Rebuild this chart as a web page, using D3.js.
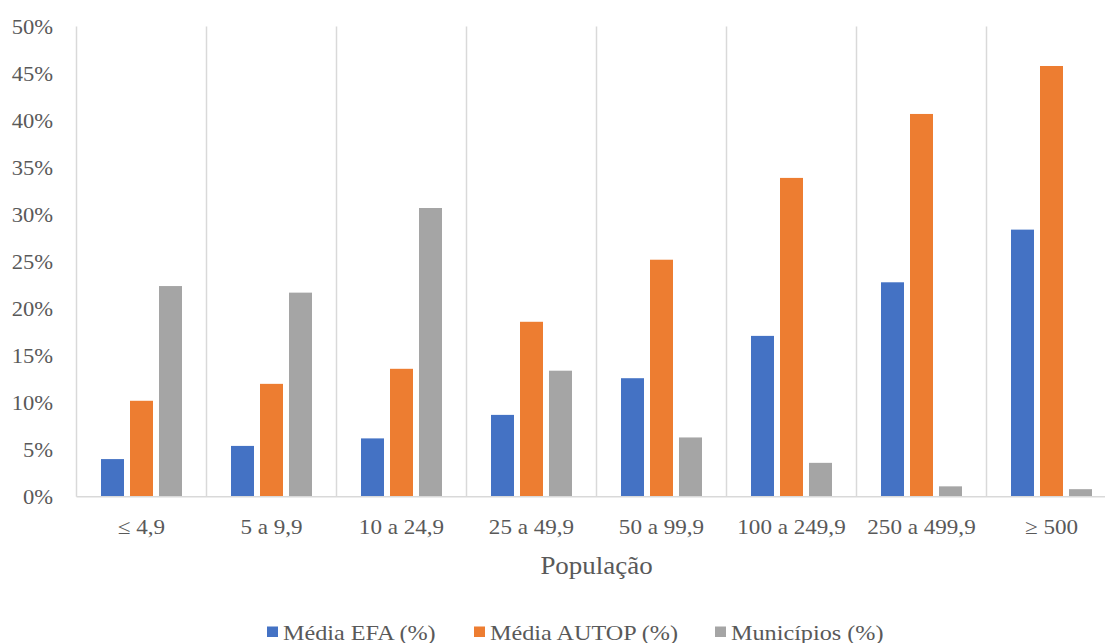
<!DOCTYPE html>
<html>
<head>
<meta charset="utf-8">
<script src="https://cdn.jsdelivr.net/npm/d3@7"></script>
<style>
  html, body { margin: 0; padding: 0; background: #fff; }
  svg { display: block; }
</style>
</head>
<body>
<svg id="chart" width="1105" height="643"></svg>
<script>
// Population classes (thousand inhabitants)
const categories = ["≤ 4,9", "5 a 9,9", "10 a 24,9", "25 a 49,9", "50 a 99,9", "100 a 249,9", "250 a 499,9", "≥ 500"];
const seriesNames = ["Média EFA (%)", "Média AUTOP (%)", "Municípios (%)"];
const mediaEFA   = [4.0, 5.4, 6.2, 8.7, 12.6, 17.1, 22.8, 28.4];
const mediaAUTOP = [10.2, 12.0, 13.6, 18.6, 25.2, 33.9, 40.7, 45.8];
const municipios = [22.4, 21.7, 30.7, 13.4, 6.3, 3.6, 1.1, 0.8];
const yTicks = [0, 5, 10, 15, 20, 25, 30, 35, 40, 45, 50];
const colors = ["#4472C4", "#ED7D31", "#A5A5A5"];

const FONT = '"Liberation Serif", "Times New Roman", serif';
const TEXT_COLOR = "#595959";
const STRETCH = "scale(1.1,1)";

const values = [mediaEFA, mediaAUTOP, municipios];
const rows = categories.map((c, i) => ({
  cat: c,
  vals: seriesNames.map((s, j) => ({ key: s, value: values[j][i], color: colors[j] }))
}));

const svg = d3.select("#chart");
const plotLeft = 76.5, plotRight = 1116.5, plotTop = 26.5, plotBottom = 496.7;

const x = d3.scaleBand().domain(categories).range([plotLeft, plotRight]).padding(0);
const groupW = 81;
const x1 = d3.scaleBand().domain(seriesNames)
  .range([(x.bandwidth() - groupW) / 2, (x.bandwidth() + groupW) / 2])
  .paddingInner(6 / 29).paddingOuter(0);
const y = d3.scaleLinear().domain([0, 50]).range([plotBottom, plotTop]);

// Vertical separators between population classes
svg.append("g")
  .selectAll("line")
  .data(categories)
  .join("line")
  .attr("x1", d => x(d)).attr("x2", d => x(d))
  .attr("y1", plotTop).attr("y2", plotBottom)
  .attr("stroke", "#D9D9D9").attr("stroke-width", 1.5);

// Bars
svg.append("g")
  .selectAll("g")
  .data(rows)
  .join("g")
  .attr("transform", d => `translate(${x(d.cat)},0)`)
  .selectAll("rect")
  .data(d => d.vals)
  .join("rect")
  .attr("x", d => x1(d.key))
  .attr("width", x1.bandwidth())
  .attr("y", d => y(d.value))
  .attr("height", d => y(0) - y(d.value))
  .attr("fill", d => d.color);

// Baseline
svg.append("line")
  .attr("x1", plotLeft).attr("x2", plotRight)
  .attr("y1", plotBottom).attr("y2", plotBottom)
  .attr("stroke", "#D9D9D9").attr("stroke-width", 1.5);

// Y axis labels
const yAxis = d3.axisLeft(y).tickValues(yTicks).tickFormat(d => d + "%").tickSize(0).tickPadding(0);
const gy = svg.append("g").attr("transform", `translate(53,0)`).call(yAxis);
gy.select(".domain").remove();
gy.selectAll("text")
  .style("font-family", FONT).style("font-size", "20.5px")
  .attr("fill", TEXT_COLOR).attr("transform", STRETCH);

// X axis labels
const xAxis = d3.axisBottom(x).tickSize(0).tickPadding(0);
const gx = svg.append("g").attr("transform", `translate(0,${plotBottom + 22})`).call(xAxis);
gx.select(".domain").remove();
gx.selectAll("text")
  .style("font-family", FONT).style("font-size", "21px")
  .attr("fill", TEXT_COLOR).attr("transform", STRETCH);

// Axis title
svg.append("text")
  .attr("transform", `translate(${(plotLeft + plotRight) / 2},574) ${STRETCH}`)
  .attr("text-anchor", "middle")
  .style("font-family", FONT).style("font-size", "24.5px")
  .attr("fill", TEXT_COLOR)
  .text("População");

// Legend
const legendX = [267, 474, 715];
const legend = svg.append("g")
  .selectAll("g")
  .data(seriesNames)
  .join("g")
  .attr("transform", (d, i) => `translate(${legendX[i]},626.5)`);
legend.append("rect")
  .attr("width", 11).attr("height", 10.5)
  .attr("fill", (d, i) => colors[i]);
legend.append("text")
  .attr("transform", `translate(16,13) ${STRETCH}`)
  .style("font-family", FONT).style("font-size", "22px")
  .attr("fill", TEXT_COLOR)
  .text(d => d);
</script>
</body>
</html>
